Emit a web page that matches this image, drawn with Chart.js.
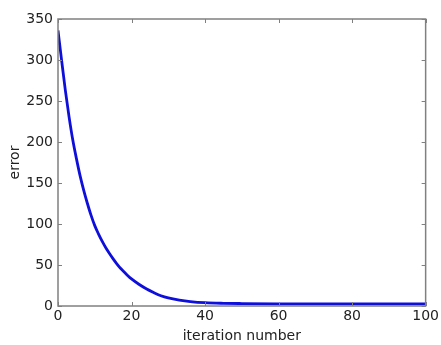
<!DOCTYPE html>
<html>
<head>
<meta charset="utf-8">
<script src="https://cdn.jsdelivr.net/npm/chart.js@4/dist/chart.umd.min.js"></script>
<style>
  html, body { margin: 0; padding: 0; background: #fff; }
  #wrap { width: 441px; height: 345px; }
</style>
</head>
<body>
<div id="wrap"><canvas id="errorChart"></canvas></div>
<script>
// values
const iterations = [0, 1, 2, 3, 4, 5, 6, 7, 8, 9, 10, 11, 12, 13, 14, 15, 16, 17, 18, 19, 20,
    22, 24, 26, 28, 30, 33, 36, 40, 45, 50, 60, 70, 80, 90, 100];
const errors = [336, 299, 263, 231, 203, 180, 159, 141, 125, 110.5, 98, 88, 79, 71, 64, 57.5, 51.5, 46, 41.5, 37, 33,
    26.5, 21, 16.5, 12.5, 9.8, 7.2, 5.4, 4, 3.3, 3, 2.7, 2.6, 2.5, 2.5, 2.5];
const xTicks = [0, 20, 40, 60, 80, 100];
const yTicks = [0, 50, 100, 150, 200, 250, 300, 350];

const points = iterations.map((x, i) => ({ x: x, y: errors[i] }));

// matplotlib style frame with inward ticks on all four sides
const framePlugin = {
    id: 'frame',
    afterDatasetsDraw(chart) {
        const ctx = chart.ctx;
        const a = chart.chartArea;
        const xs = chart.scales.x;
        const ys = chart.scales.y;
        ctx.save();
        ctx.strokeStyle = '#808080';
        ctx.lineWidth = 1;
        ctx.beginPath();
        xTicks.forEach(v => {
            const px = Math.round(xs.getPixelForValue(v)) + 0.5;
            ctx.moveTo(px, a.bottom); ctx.lineTo(px, a.bottom - 4);
            ctx.moveTo(px, a.top); ctx.lineTo(px, a.top + 4);
        });
        yTicks.forEach(v => {
            const py = Math.round(ys.getPixelForValue(v)) + 0.5;
            ctx.moveTo(a.left, py); ctx.lineTo(a.left + 4, py);
            ctx.moveTo(a.right, py); ctx.lineTo(a.right - 4, py);
        });
        ctx.stroke();
        ctx.lineWidth = 1.5;
        ctx.strokeRect(a.left, a.top, a.right - a.left, a.bottom - a.top);
        ctx.restore();
    }
};

const labelFont = { family: '"DejaVu Sans", sans-serif', size: 14 };

new Chart(document.getElementById('errorChart'), {
    type: 'line',
    data: {
        datasets: [{
            label: 'error',
            data: points,
            borderColor: 'rgb(15, 15, 220)',
            borderWidth: 2.8,
            pointRadius: 0,
            cubicInterpolationMode: 'monotone',
            fill: false
        }]
    },
    options: {
        responsive: true,
        maintainAspectRatio: false,
        animation: false,
        layout: { padding: { left: 0, right: 12, top: 19, bottom: 0 } },
        plugins: {
            legend: { display: false },
            tooltip: { enabled: false }
        },
        scales: {
            x: {
                type: 'linear',
                min: 0,
                max: 100,
                afterBuildTicks: scale => { scale.ticks = xTicks.map(v => ({ value: v })); },
                afterFit: scale => { scale.height = 39; },
                grid: { display: false, drawTicks: false },
                border: { display: false },
                ticks: { color: '#222', font: labelFont, padding: 2, maxRotation: 0 },
                title: { display: true, text: 'iteration number', color: '#222', font: labelFont, padding: { top: 5, bottom: 0 } }
            },
            y: {
                min: 0,
                max: 350,
                afterBuildTicks: scale => { scale.ticks = yTicks.map(v => ({ value: v })); },
                afterFit: scale => { scale.width = 58; },
                grid: { display: false, drawTicks: false },
                border: { display: false },
                ticks: { color: '#222', font: labelFont, padding: 5 },
                title: { display: true, text: 'error', color: '#222', font: labelFont, padding: { top: 7, bottom: 0 } }
            }
        }
    },
    plugins: [framePlugin]
});
</script>
</body>
</html>
